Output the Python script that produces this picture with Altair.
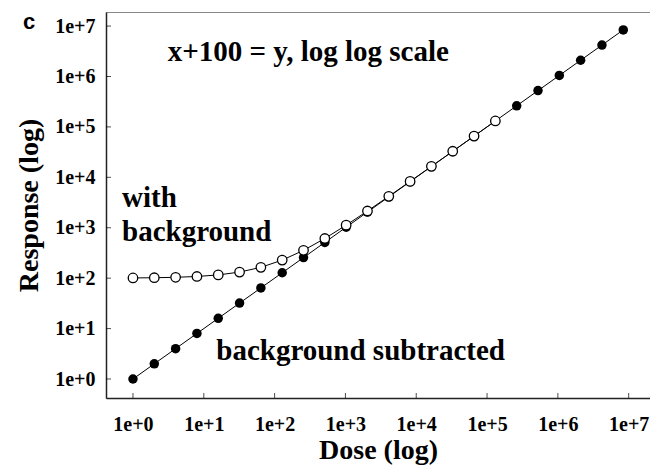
import altair as alt
import pandas as pd

# ---- data ----
dose = [1, 2, 4, 8, 16, 32, 64, 128, 256, 512, 1024, 2048, 4096, 8192,
        16384, 32768, 65536, 131072, 262144, 524288, 1048576, 2097152,
        4194304, 8388608]
resp_subtracted = [1, 2, 4, 8, 16, 32, 64, 128, 256, 512, 1024, 2048, 4096,
                   8192, 16384, 32768, 65536, 131072, 262144, 524288,
                   1048576, 2097152, 4194304, 8388608]
dose_bg = [1, 2, 4, 8, 16, 32, 64, 128, 256, 512, 1024, 2048, 4096, 8192,
           16384, 32768, 65536, 131072]
resp_with_bg = [101, 102, 104, 108, 116, 132, 164, 228, 356, 612, 1124, 2148,
                4196, 8292, 16484, 32868, 65636, 131172]

tick_values = [1, 10, 100, 1000, 10000, 100000, 1000000, 10000000]

ann_text = ["x+100 = y, log log scale", "with", "background", "background subtracted"]
ann_x = [3.1, 0.70, 0.70, 15.0]
ann_y = [2.04e6, 2590, 547, 2.38]

W, H = 544, 386
SERIF = "Liberation Serif"

df_sub = pd.DataFrame({"dose": dose, "resp": resp_subtracted})
df_bg = pd.DataFrame({"dose": dose_bg, "resp": resp_with_bg})
df_ticks = pd.DataFrame({"dose": tick_values, "resp": tick_values})
df_ann = pd.DataFrame({"t": ann_text, "dose": ann_x, "resp": ann_y})

xscale = alt.Scale(type="log", domain=[0.416, 2.0e7], nice=False)
yscale = alt.Scale(type="log", domain=[0.42, 1.9e7], nice=False)

xaxis = alt.Axis(values=tick_values, format=".0e", title="Dose (log)",
                 grid=False, ticks=False, tickSize=0, labelPadding=32,
                 labelBaseline="alphabetic", titleBaseline="alphabetic",
                 titleY=60)
yaxis = alt.Axis(values=tick_values, format=".0e", title="Response (log)",
                 grid=False, ticks=False, tickSize=0, labelPadding=11,
                 titleBaseline="alphabetic", titleX=-69)

X = alt.X("dose:Q", scale=xscale, axis=xaxis)
Y = alt.Y("resp:Q", scale=yscale, axis=yaxis)

line_sub = alt.Chart(df_sub).mark_line(color="black", strokeWidth=1).encode(x=X, y=Y)
pts_sub = alt.Chart(df_sub).mark_point(shape="circle", filled=True, size=90,
                                        color="black", opacity=1).encode(x=X, y=Y)
line_bg = alt.Chart(df_bg).mark_line(color="black", strokeWidth=1).encode(x=X, y=Y)
pts_bg = alt.Chart(df_bg).mark_point(shape="circle", filled=True, size=90,
                                      fill="white", stroke="black",
                                      strokeWidth=1.3, opacity=1).encode(x=X, y=Y)

xt = alt.Chart(df_ticks).mark_tick(color="black", thickness=1, size=5).encode(
    x=X, y=alt.value(H - 2.5))
yt = alt.Chart(df_ticks).mark_tick(color="black", thickness=1, size=5).encode(
    y=Y, x=alt.value(2.5))

ann = alt.Chart(df_ann).mark_text(font=SERIF, fontWeight="bold", fontSize=29,
                                  align="left", baseline="alphabetic",
                                  color="black").encode(x=X, y=Y, text="t:N")

panel = alt.Chart(pd.DataFrame({"p": ["c"]})).mark_text(
    font="Liberation Sans", fontWeight="bold", fontSize=22, align="left",
    baseline="alphabetic", color="black").encode(
    x=alt.value(-83), y=alt.value(17), text="p:N")

chart = alt.layer(line_sub, pts_sub, line_bg, pts_bg, xt, yt, ann, panel).properties(
    width=W, height=H,
    autosize=alt.AutoSizeParams(type="none"),
    padding={"left": 98, "top": 4, "right": 0, "bottom": 67},
    background="white",
).configure_view(
    stroke="#888888", strokeWidth=1
).configure_axis(
    domainColor="#222222", domainWidth=1.5,
    labelFont=SERIF, labelFontWeight="bold", labelFontSize=20, labelColor="black",
    titleFont=SERIF, titleFontWeight="bold", titleFontSize=28, titleColor="black",
)

chart.save("out.html", embed_options={"renderer": "svg", "actions": False})
